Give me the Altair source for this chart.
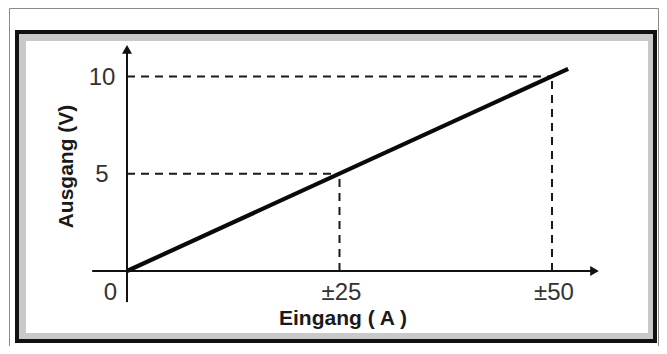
import altair as alt
import pandas as pd

# ---- data ----
line_x = [0, 51.9]          # Eingang (A)
line_y = [0, 10.4]          # Ausgang (V)
x_ticks = [25, 50]
x_labels = ["±25", "±50"]
y_ticks = [5, 10]
y_labels = ["5", "10"]
origin_label = ["0"]
x_title = ["Eingang ( A )"]
y_title = ["Ausgang (V)"]
x_axis_extent = [-4.1, 55.0]
y_axis_extent = [-1.6, 11.4]
x_domain = [-14.0, 62.588]
y_domain = [-3.858, 13.529]

W, H = 651, 338
XS = alt.Scale(domain=x_domain, nice=False, zero=False)
YS = alt.Scale(domain=y_domain, nice=False, zero=False)

def X(f, **kw):
    return alt.X(f, scale=XS, axis=None, **kw)

def Y(f, **kw):
    return alt.Y(f, scale=YS, axis=None, **kw)

dummy = pd.DataFrame({"k": [0]})

def frame_rect(x1, x2, y1, y2, **style):
    return alt.Chart(dummy).mark_rect(**style).encode(
        x=alt.value(x1), x2=alt.value(x2), y=alt.value(y1), y2=alt.value(y2)
    )

outer = frame_rect(1.5, 650.5, 0.5, 345, fill="white", stroke="#8a8a8a", strokeWidth=1)
black = frame_rect(7, 649, 22, 335, fill="#111111")
gray = frame_rect(11, 645, 26, 331, fill="#c9c9c9")
white = frame_rect(18, 640, 33, 325, fill="white")

guides = pd.DataFrame({"xt": x_ticks, "yt": y_ticks, "zero": [0] * len(x_ticks)})
dash_h = alt.Chart(guides).mark_rule(color="#1a1a1a", strokeWidth=2, strokeDash=[8, 6]).encode(
    x=X("zero:Q"), x2="xt:Q", y=Y("yt:Q")
)
dash_v = alt.Chart(guides).mark_rule(color="#1a1a1a", strokeWidth=2, strokeDash=[8, 6]).encode(
    x=X("xt:Q"), y=Y("zero:Q"), y2="yt:Q"
)

line_df = pd.DataFrame({"x": line_x, "y": line_y})
main_line = alt.Chart(line_df).mark_line(color="#0a0a0a", strokeWidth=4.2, strokeCap="butt").encode(
    x=X("x:Q"), y=Y("y:Q")
)

axes_df = pd.DataFrame({"x1": [x_axis_extent[0]], "x2": [x_axis_extent[1]],
                        "y1": [y_axis_extent[0]], "y2": [y_axis_extent[1]], "zero": [0]})
x_axis = alt.Chart(axes_df).mark_rule(color="#111111", strokeWidth=2).encode(
    x=X("x1:Q"), x2="x2:Q", y=Y("zero:Q")
)
y_axis = alt.Chart(axes_df).mark_rule(color="#111111", strokeWidth=2).encode(
    x=X("zero:Q"), y=Y("y1:Q"), y2="y2:Q"
)
x_arrow = alt.Chart(axes_df).mark_point(shape="triangle-right", size=100, filled=True,
                                        color="#111111", opacity=1, strokeWidth=0).encode(
    x=X("x2:Q"), y=Y("zero:Q")
)
y_arrow = alt.Chart(axes_df).mark_point(shape="triangle-up", size=100, filled=True,
                                        color="#111111", opacity=1, strokeWidth=0).encode(
    x=X("zero:Q"), y=Y("y2:Q")
)

FONT = "Liberation Sans"
xl_df = pd.DataFrame({"v": x_ticks, "t": x_labels, "zero": [0] * len(x_ticks)})
x_lab = alt.Chart(xl_df).mark_text(align="center", baseline="alphabetic", dx=2, dy=29,
                                   fontSize=24, font=FONT, color="#333333").encode(
    x=X("v:Q"), y=Y("zero:Q"), text="t:N"
)
yl_df = pd.DataFrame({"v": y_ticks, "t": y_labels, "zero": [0] * len(y_ticks)})
y_lab = alt.Chart(yl_df).mark_text(align="center", baseline="middle", dx=-25, dy=1.5,
                                   fontSize=24, font=FONT, color="#333333").encode(
    x=X("zero:Q"), y=Y("v:Q"), text="t:N"
)
o_df = pd.DataFrame({"t": origin_label, "zero": [0]})
o_lab = alt.Chart(o_df).mark_text(align="center", baseline="alphabetic", dx=-16.5, dy=29,
                                  fontSize=24, font=FONT, color="#333333").encode(
    x=X("zero:Q"), y=Y("zero:Q"), text="t:N"
)
xt_df = pd.DataFrame({"t": x_title, "v": [x_ticks[0]], "zero": [0]})
x_tit = alt.Chart(xt_df).mark_text(align="center", baseline="alphabetic", dx=3.5, dy=54,
                                   fontSize=21, fontWeight="bold", font=FONT, color="#1a1a1a").encode(
    x=X("v:Q"), y=Y("zero:Q"), text="t:N"
)
yt_df = pd.DataFrame({"t": y_title, "v": [y_ticks[0]], "zero": [0]})
y_tit = alt.Chart(yt_df).mark_text(align="center", baseline="alphabetic", angle=270, dx=7.3, dy=-54,
                                   fontSize=21, fontWeight="bold", font=FONT, color="#1a1a1a").encode(
    x=X("zero:Q"), y=Y("v:Q"), text="t:N"
)

chart = alt.layer(
    outer, black, gray, white,
    dash_h, dash_v, x_axis, y_axis, x_arrow, y_arrow, main_line,
    x_lab, y_lab, o_lab, x_tit, y_tit,
).properties(
    width=W, height=H, padding=0,
    autosize=alt.AutoSizeParams(type="none"),
).configure_view(stroke=None)

chart.save("out.html", embed_options={"renderer": "svg", "actions": False})
